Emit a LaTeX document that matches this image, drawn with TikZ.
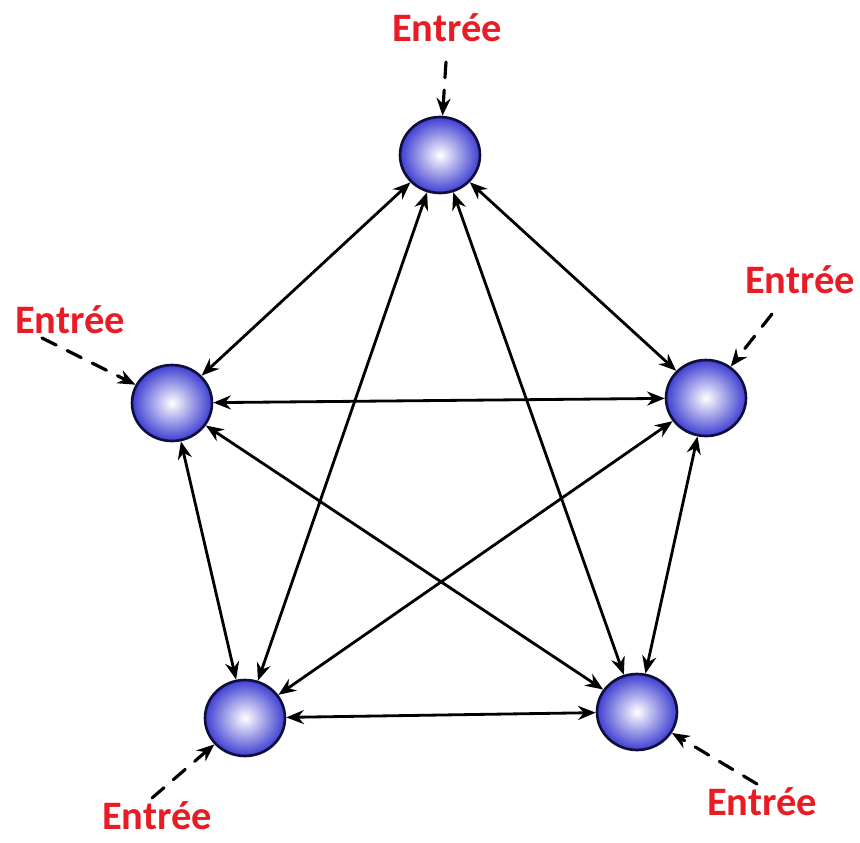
\documentclass[tikz,border=0pt]{standalone}
\usepackage{fontspec}
\setmainfont{Carlito}
\usetikzlibrary{arrows.meta,shapes.geometric}
\definecolor{entreered}{RGB}{232,28,36}
\definecolor{neuronblue}{RGB}{62,62,210}
\definecolor{neuronedge}{RGB}{15,15,60}

\begin{document}
\begin{tikzpicture}[x=0.02cm,y=-0.02cm,line cap=round,line join=round,
	neuron/.style={ellipse,minimum width=1.6cm,minimum height=1.52cm,inner sep=0pt,
		draw=neuronedge,line width=1.5pt,inner color=white,outer color=neuronblue},
	link/.style={{Stealth[length=10pt,width=8pt]}-{Stealth[length=10pt,width=8pt]},line width=1.6pt},
	input/.style={-{Stealth[length=10pt,width=8pt]},line width=1.8pt,dash pattern=on 9pt off 7pt},
	lbl/.style={text=entreered,font=\fontsize{23}{26}\selectfont\bfseries,inner sep=0pt}]
				\useasboundingbox (0,0) rectangle (860,843);
				% neurones
				\node[neuron] (nT) at (440,155) {};
				\node[neuron] (nL) at (172,403) {};
				\node[neuron] (nR) at (706,398) {};
				\node[neuron] (nBL) at (245,718) {};
				\node[neuron] (nBR) at (637,712) {};
				% connexions
				\draw[link] (nT) -- (nL);
				\draw[link] (nT) -- (nR);
				\draw[link] (nT) -- (nBL);
				\draw[link] (nT) -- (nBR);
				\draw[link] (nL) -- (nR);
				\draw[link] (nL) -- (nBL);
				\draw[link] (nL) -- (nBR);
				\draw[link] (nR) -- (nBL);
				\draw[link] (nR) -- (nBR);
				\draw[link] (nBL) -- (nBR);
				% entrees
				\node[lbl] (eT) at (447,28) {Entrée};
				\node[lbl] (eL) at (70,320) {Entrée};
				\node[lbl] (eR) at (800,280) {Entrée};
				\node[lbl] (eBL) at (157,816) {Entrée};
				\node[lbl] (eBR) at (762,802) {Entrée};
				\coordinate (iT) at (446,62);
				\coordinate (iL) at (42,338);
				\coordinate (iR) at (772,314);
				\coordinate (iBL) at (152,798);
				\coordinate (iBR) at (757,784);
				\draw[input] (iT) -- (nT);
				\draw[input] (iL) -- (nL);
				\draw[input] (iR) -- (nR);
				\draw[input] (iBL) -- (nBL);
				\draw[input] (iBR) -- (nBR);
			\end{tikzpicture}
\end{document}
